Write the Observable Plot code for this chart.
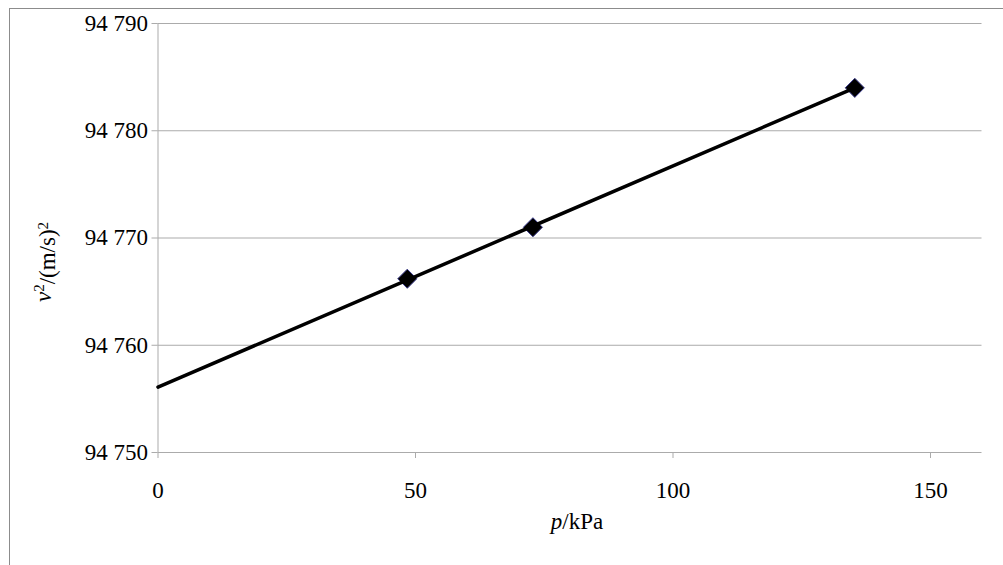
<!DOCTYPE html>
<html>
<head>
<meta charset="utf-8">
<script src="https://cdn.jsdelivr.net/npm/d3@7"></script>
<script src="https://cdn.jsdelivr.net/npm/@observablehq/plot@0.6"></script>
<style>
  html, body { margin: 0; padding: 0; background: #fff; }
  #wrap { position: relative; width: 1003px; height: 565px; overflow: hidden; }
  #border { position: absolute; left: 8.5px; top: 7.5px; width: 1100px; height: 700px;
            border-left: 1px solid #8c8c8c; border-top: 1px solid #8c8c8c; }
  #chart { position: absolute; left: 0; top: 0; }
  #chart svg, #chart svg text { font-family: "Liberation Serif", "Times New Roman", "DejaVu Serif", serif !important; }
</style>
</head>
<body>
<div id="wrap"><div id="border"></div><div id="chart"></div></div>
<script>
// Measured points
const pressure = [48.4, 72.8, 135.3];           // p / kPa
const speedSq  = [94766.2, 94771.0, 94784.0];   // v^2 / (m/s)^2
// Trend line endpoints
const trendP = [0, 135.3];
const trendV = [94756.1, 94784.0];
// Axis ticks
const xTicks = [0, 50, 100, 150];
const yTicks = [94750, 94760, 94770, 94780, 94790];

const points = pressure.map((p, i) => ({p, v: speedSq[i]}));
const trend = trendP.map((p, i) => ({p, v: trendV[i]}));

const fmt = d => d3.format(",")(d).replace(/,/g, " ");
const gray = "#ababab";
const FONT = "'Liberation Serif', 'Times New Roman', serif";

const chart = Plot.plot({
  width: 1003,
  height: 565,
  marginLeft: 157.5,
  marginRight: 21.5,
  marginTop: 23,
  marginBottom: 113,
  style: {fontFamily: FONT, fontSize: "23px", color: "#000", background: "transparent"},
  x: {domain: [0, 160]},
  y: {domain: [94750, 94790]},
  marks: [
    Plot.gridY(yTicks, {stroke: gray, strokeOpacity: 1}),
    Plot.ruleX([0], {stroke: gray}),
    Plot.axisY(yTicks, {tickSize: 6, tickPadding: 4, stroke: gray, tickFormat: fmt, label: null, fill: "#000", fontSize: 23}),
    Plot.axisX(xTicks, {tickSize: 6, tickPadding: 23, stroke: gray, label: null, fill: "#000", fontSize: 23}),
    Plot.dot(points, {x: "p", y: "v", symbol: "diamond2", r: 8.6, fill: "#000", stroke: "#3c3c8c", strokeWidth: 1}),
    Plot.line(trend, {x: "p", y: "v", stroke: "#000", strokeWidth: 3.5})
  ]
});
document.getElementById("chart").appendChild(chart);

const svg = d3.select(chart);
// Y axis title: v²/(m/s)²
const yt = svg.append("text")
  .attr("transform", "translate(43,262) rotate(-90)")
  .attr("text-anchor", "middle")
  .attr("dy", "0.35em")
  .style("font-size", "23px").attr("fill", "#000");
yt.append("tspan").style("font-style", "italic").text("v");
yt.append("tspan").attr("dy", "-0.45em").style("font-size", "15px").text("2");
yt.append("tspan").attr("dy", "0.45em").text("/(m/s)");
yt.append("tspan").attr("dy", "-0.45em").style("font-size", "15px").text("2");

// X axis title: p/kPa
const xt = svg.append("text")
  .attr("x", 577).attr("y", 521)
  .attr("text-anchor", "middle")
  .attr("dy", "0.35em")
  .style("font-size", "23px").attr("fill", "#000");
xt.append("tspan").style("font-style", "italic").text("p");
xt.append("tspan").text("/kPa");
</script>
</body>
</html>
